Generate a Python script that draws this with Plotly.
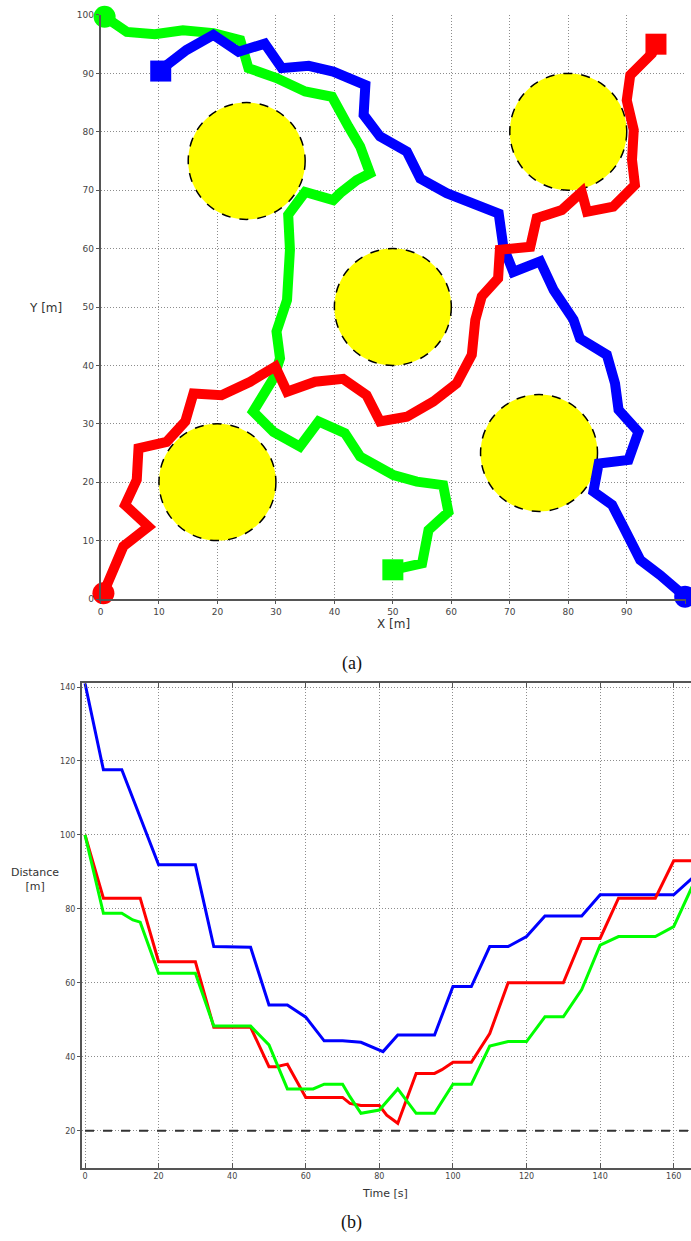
import plotly.graph_objects as go

W, H = 691, 1241

# ---------------- (a) paths in the XY plane ----------------
green_x = [0.7, 2.5, 4.5, 9.3, 14.1, 19.3, 23.9, 25.3, 30.1, 35.0, 39.6, 42.4, 44.4, 46.1, 43.8, 41.0, 39.8, 35.0,
           32.1, 32.4, 31.9, 30.1, 30.7, 29.6, 26.1, 29.6, 34.1, 37.3, 41.8, 44.4, 50.1, 54.1, 58.6, 59.5, 56.1,
           55.0, 51.8, 50.0]
green_y = [99.7, 98.3, 97.1, 96.7, 97.4, 96.9, 95.7, 90.9, 89.2, 86.9, 86.0, 80.9, 77.5, 72.9, 71.7, 69.5, 68.3, 69.7,
           65.8, 59.8, 51.2, 45.8, 41.2, 37.8, 32.1, 28.6, 26.1, 30.4, 28.4, 24.4, 21.2, 20.1, 19.5, 14.9, 11.8,
           6.1, 5.3, 5.0]

blue_x = [10.3, 11.3, 14.7, 19.3, 23.6, 28.1, 31.0, 35.6, 39.8, 42.7, 45.3, 45.0, 47.8, 52.4, 54.7, 59.2, 63.8, 68.1,
          68.9, 70.6, 75.2, 77.5, 80.9, 82.0, 86.6, 88.0, 88.6, 92.0, 90.3, 85.2, 84.3, 87.5, 89.4, 92.3, 95.7, 100.0]
blue_y = [90.4, 91.4, 94.0, 96.6, 93.7, 95.1, 90.9, 91.3, 90.3, 88.9, 88.0, 82.9, 79.2, 76.6, 72.0, 69.5, 67.5, 66.0,
          60.3, 56.0, 57.8, 52.9, 47.8, 44.6, 41.8, 36.9, 32.4, 28.6, 23.8, 23.2, 18.4, 16.1, 12.4, 6.7, 4.1, 0.4]

red_x = [0.5, 3.9, 8.2, 4.2, 6.2, 6.5, 11.3, 14.5, 15.9, 20.7, 25.6, 29.9, 31.9, 36.7, 41.5, 45.5, 47.8, 52.4, 56.9,
         60.9, 63.5, 64.1, 65.2, 68.0, 68.3, 73.5, 74.6, 78.9, 82.3, 83.2, 87.7, 91.4, 90.9, 91.2, 90.0, 90.6, 94.3, 95.0]
red_y = [1.0, 9.0, 12.4, 16.1, 20.4, 25.8, 26.9, 30.4, 35.2, 34.9, 37.2, 39.8, 35.5, 37.2, 37.7, 34.9, 30.4, 31.2, 33.8,
         36.9, 41.8, 47.8, 51.8, 54.9, 59.8, 60.3, 65.2, 66.6, 69.7, 66.3, 67.2, 70.9, 75.2, 80.3, 85.4, 89.7, 93.4, 95.0]

# start markers (circles) and goal markers (squares)
start_x = [0.7, 0.5, 100.0]
start_y = [99.7, 1.0, 0.4]
goal_x = [50.0, 95.0, 10.3]
goal_y = [5.0, 95.0, 90.4]
marker_colors = ["#00ff00", "#ff0000", "#0000ff"]

obstacle_x = [25, 50, 80, 20, 75]
obstacle_y = [75, 50, 80, 20, 25]
obstacle_r = 10

xy_ticks = [0, 10, 20, 30, 40, 50, 60, 70, 80, 90, 100]

# ---------------- (b) distance vs time ----------------
blue_t = [0, 5, 10, 20, 30, 35, 45, 50, 55, 60, 65, 70, 75, 81, 85, 95, 100, 105, 110, 115, 120, 125, 135, 140, 160, 165]
blue_d = [141, 117.6, 117.6, 91.9, 91.9, 69.8, 69.6, 54, 54, 50.7, 44.3, 44.3, 43.9, 41.4, 45.9, 45.9, 59, 59, 69.8,
          69.8, 72.5, 78.1, 78.1, 83.8, 83.8, 88.3]

red_t = [0, 5, 15, 20, 30, 35, 45, 50, 52, 55, 60, 70, 72, 75, 80, 82, 85, 90, 95, 97, 100, 105, 110, 115, 130, 135,
         140, 145, 155, 160, 165]
red_d = [100, 82.9, 82.9, 65.7, 65.7, 48, 48, 37.3, 37.3, 38, 29, 29, 27.4, 26.8, 26.8, 24.2, 22, 35.5, 35.5, 36.5,
         38.5, 38.5, 46.3, 60, 60, 72, 72, 82.9, 82.9, 93, 93]

green_t = [0, 5, 10, 13, 15, 20, 30, 35, 45, 50, 55, 60, 62, 65, 70, 72, 75, 80, 85, 90, 95, 100, 105, 110, 115, 120,
           125, 130, 135, 140, 145, 155, 160, 165]
green_d = [100, 78.8, 78.8, 77, 76.4, 62.6, 62.6, 48.3, 48.3, 43.2, 31.3, 31.3, 31.3, 32.6, 32.6, 29.2, 24.7, 25.6,
           31.3, 24.7, 24.7, 32.6, 32.6, 42.9, 44.1, 44.1, 50.8, 50.8, 58.2, 70.2, 72.5, 72.5, 75.2, 86]

safe_distance = 20
time_start, time_end = 0, 165
time_ticks = [0, 20, 40, 60, 80, 100, 120, 140, 160]
dist_ticks = [20, 40, 60, 80, 100, 120, 140]


def px(x):
    return x / W


def py(y):
    return 1 - y / H


fig = go.Figure()

for xs, ys, c in [(green_x, green_y, "#00ff00"), (blue_x, blue_y, "#0000ff"), (red_x, red_y, "#ff0000")]:
    fig.add_trace(go.Scatter(x=xs, y=ys, mode="lines", line=dict(color=c, width=10),
                             xaxis="x", yaxis="y", showlegend=False, hoverinfo="skip"))

fig.add_trace(go.Scatter(x=start_x, y=start_y, mode="markers",
                         marker=dict(symbol="circle", size=22, color=marker_colors, line=dict(width=0)),
                         xaxis="x", yaxis="y", cliponaxis=False, showlegend=False))
fig.add_trace(go.Scatter(x=goal_x, y=goal_y, mode="markers",
                         marker=dict(symbol="square", size=21, color=marker_colors, line=dict(width=0)),
                         xaxis="x", yaxis="y", cliponaxis=False, showlegend=False))

for ts, ds, c in [(blue_t, blue_d, "#0000ff"), (red_t, red_d, "#ff0000"), (green_t, green_d, "#00ff00")]:
    fig.add_trace(go.Scatter(x=ts, y=ds, mode="lines", line=dict(color=c, width=3),
                             xaxis="x2", yaxis="y2", showlegend=False))

shapes = []
for cx, cy in zip(obstacle_x, obstacle_y):
    shapes.append(dict(type="circle", xref="x", yref="y",
                       x0=cx - obstacle_r, x1=cx + obstacle_r, y0=cy - obstacle_r, y1=cy + obstacle_r,
                       fillcolor="#ffff00", line=dict(color="black", width=1.5, dash="dash"), layer="between"))
shapes.append(dict(type="line", xref="x2", yref="y2", x0=time_start, x1=time_end,
                   y0=safe_distance, y1=safe_distance, line=dict(color="#333333", width=2, dash="dash"),
                   layer="above"))

tickfont_a = dict(family="DejaVu Sans", size=9, color="#444444")
tickfont_b = dict(family="DejaVu Sans", size=8, color="#444444")
grid = dict(showgrid=True, gridcolor="#8c8c8c", griddash="1px,2px", gridwidth=1, zeroline=False)


def label(text, x, y, size, family="DejaVu Sans", color="#333333"):
    return dict(text=text, x=px(x), y=py(y), xref="paper", yref="paper", showarrow=False,
                xanchor="center", yanchor="middle", font=dict(family=family, size=size, color=color))


fig.update_layout(
    width=W, height=H, autosize=False,
    margin=dict(l=0, r=0, t=0, b=0, pad=0),
    paper_bgcolor="white", plot_bgcolor="white",
    shapes=shapes,
    xaxis=dict(domain=[px(100.5), px(685.5)], range=[0, 100.05], tickvals=xy_ticks, ticks="outside", ticklen=3,
               tickcolor="#555555", showline=True, linecolor="#555555", linewidth=1.5, tickfont=tickfont_a,
               anchor="y", automargin=False, **grid),
    yaxis=dict(domain=[py(599), py(14.7)], range=[0, 100.05], tickvals=xy_ticks, ticks="outside", ticklen=3,
               tickcolor="#555555", showline=True, linecolor="#555555", linewidth=1.5, tickfont=tickfont_a,
               anchor="x", automargin=False, **grid),
    xaxis2=dict(domain=[px(81.7), 1.0], range=[-0.9, 164.7], tickvals=time_ticks, ticks="inside", ticklen=5,
                tickcolor="#555555", showline=True, linecolor="#555555", linewidth=1.5, mirror="ticks",
                tickfont=tickfont_b, anchor="y2", automargin=False, **grid),
    yaxis2=dict(domain=[py(1167.7), py(683.3)], range=[10, 141], tickvals=dist_ticks, ticks="outside", ticklen=3,
                tickcolor="#555555", showline=True, linecolor="#555555", linewidth=1.5,
                tickfont=tickfont_b, anchor="x2", automargin=False, **grid),
    annotations=[
        label("Y [m]", 45, 308, 12),
        label("X [m]", 393, 624, 12),
        label("(a)", 352, 663, 18, family="Liberation Serif", color="#111111"),
        label("Distance<br>[m]", 35, 880, 11),
        label("Time [s]", 385, 1193, 11),
        label("(b)", 352, 1222, 18, family="Liberation Serif", color="#111111"),
    ],
)

fig.write_html("out.html", config={"displayModeBar": False},
               post_script="document.body.style.margin='0';document.body.style.overflow='hidden';")
